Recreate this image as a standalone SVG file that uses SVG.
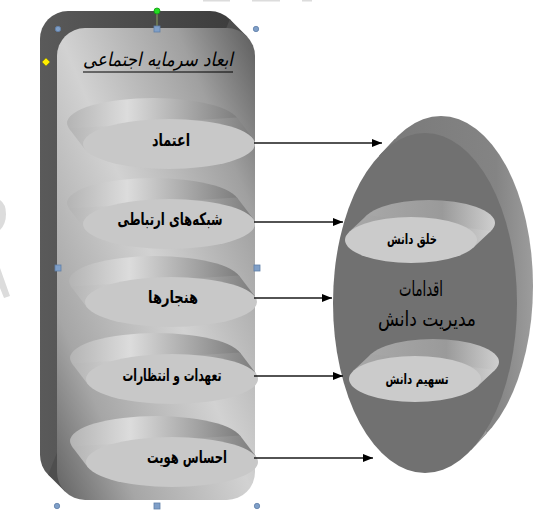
<svg xmlns="http://www.w3.org/2000/svg" xmlns:xlink="http://www.w3.org/1999/xlink" width="543" height="512" viewBox="0 0 543 512">
<style>
.lbl{font-family:"DejaVu Sans",sans-serif;font-weight:bold;fill:#000;text-anchor:middle;dominant-baseline:central}
.mid{font-family:"DejaVu Sans",sans-serif;fill:#000;text-anchor:middle;dominant-baseline:central;font-size:21px}
.conn{stroke:#1a1a1a;stroke-width:1.4;fill:none;marker-end:url(#ah)}
.hc{fill:#7f9fc8;stroke:#5f7fa8;stroke-width:0.8}
</style>
<defs>
<marker id="ah" viewBox="0 0 10 8" refX="10" refY="4" markerWidth="10" markerHeight="8" markerUnits="userSpaceOnUse" orient="auto">
<path d="M0,0 L10,4 L0,8 z" fill="#000"/>
</marker>
<linearGradient id="face" x1="0" y1="1" x2="1" y2="0">
<stop offset="0" stop-color="#626262"/>
<stop offset="0.2" stop-color="#a6a6a6"/>
<stop offset="0.5" stop-color="#d2d2d2"/>
<stop offset="0.8" stop-color="#a0a0a0"/>
<stop offset="1" stop-color="#5c5c5c"/>
</linearGradient>
<linearGradient id="back" x1="0" y1="0" x2="1" y2="0">
<stop offset="0" stop-color="#5a5a5a"/>
<stop offset="1" stop-color="#3c3c3c"/>
</linearGradient>
<linearGradient id="bevL" x1="0" y1="0" x2="1" y2="0">
<stop offset="0" stop-color="#b4b4b4"/>
<stop offset="0.35" stop-color="#dcdcdc"/>
<stop offset="1" stop-color="#7c7c7c"/>
</linearGradient>
<linearGradient id="bevR" x1="0" y1="0" x2="1" y2="0">
<stop offset="0" stop-color="#a8a8a8"/>
<stop offset="0.6" stop-color="#9a9a9a"/>
<stop offset="1" stop-color="#cfcfcf"/>
</linearGradient>
<linearGradient id="egg" x1="0" y1="0" x2="1" y2="0">
<stop offset="0" stop-color="#767676"/>
<stop offset="0.8" stop-color="#848484"/>
<stop offset="1" stop-color="#9c9c9c"/>
</linearGradient>
<g id="diskL">
<ellipse cx="-16" cy="-21" rx="86" ry="25" fill="url(#bevL)"/>
<polygon points="84,-5.4 68,-26.4 -100,-15.6 -84,5.4" fill="url(#bevL)"/>
<ellipse cx="0" cy="0" rx="86" ry="25" fill="#c8c8c8"/>
</g>
<g id="diskR">
<ellipse cx="18" cy="-17" rx="66" ry="23" fill="url(#bevR)"/>
<polygon points="61.9,8 79.9,-9 -43.9,-25 -61.9,-8" fill="url(#bevR)"/>
<ellipse cx="0" cy="0" rx="66" ry="23" fill="#cbcbcb"/>
</g>
</defs>
<rect width="543" height="512" fill="#fff"/>
<g id="watermark" fill="#dcdcdc">
<path d="M0,200 Q6,204 6,214 Q6,224 0,230 z"/>
<path d="M0,268 L10,296 L4,298 L0,288 z"/>
<rect x="203" y="0" width="27" height="1.5"/>
<rect x="252" y="0" width="28" height="1.5"/>
<rect x="302" y="0" width="10" height="1.5"/>
</g>
<g id="dimensions-box">
<rect x="40" y="11" width="198" height="472" rx="28" fill="url(#back)"/>
<polygon points="229.8,19.2 246.8,36.2 65.2,491.8 48.2,474.8" fill="#4e4e4e"/>
<rect x="57" y="28" width="198" height="472" rx="28" fill="url(#face)"/>
<text x="158" y="59" font-family="DejaVu Sans, sans-serif" font-style="italic" font-size="19" text-anchor="middle" dominant-baseline="central" fill="#000" textLength="150" lengthAdjust="spacingAndGlyphs">ابعاد سرمایه اجتماعی</text>
<line x1="83" y1="72" x2="233" y2="72" stroke="#000" stroke-width="1"/>
</g>
<g id="n-trust" transform="translate(169,144)"><use xlink:href="#diskL"/><text class="lbl" x="2" y="-4" font-size="17" textLength="38" lengthAdjust="spacingAndGlyphs">اعتماد</text></g>
<g id="n-networks" transform="translate(169,224)"><use xlink:href="#diskL"/><text class="lbl" x="1" y="-5" font-size="17" textLength="105" lengthAdjust="spacingAndGlyphs">شبکه‌های ارتباطی</text></g>
<g id="n-norms" transform="translate(171,302)"><use xlink:href="#diskL"/><text class="lbl" x="2" y="-5" font-size="17" textLength="50" lengthAdjust="spacingAndGlyphs">هنجارها</text></g>
<g id="n-commitments" transform="translate(172,379)"><use xlink:href="#diskL"/><text class="lbl" x="0" y="-4" font-size="17" textLength="99" lengthAdjust="spacingAndGlyphs">تعهدات و انتظارات</text></g>
<g id="n-identity" transform="translate(172,462)"><use xlink:href="#diskL"/><text class="lbl" x="15" y="-5" font-size="17" textLength="80" lengthAdjust="spacingAndGlyphs">احساس هویت</text></g>
<g id="km-actions">
<ellipse cx="441" cy="286" rx="92" ry="170" fill="url(#egg)"/>
<polygon points="470.8,450.4 486.8,433.4 395.2,138.6 379.2,155.6" fill="url(#egg)"/>
<ellipse cx="425" cy="303" rx="92" ry="170" fill="#717171"/>
<text class="mid" x="421" y="289" textLength="44" lengthAdjust="spacingAndGlyphs">اقدامات</text>
<text class="mid" x="427" y="319" textLength="98" lengthAdjust="spacingAndGlyphs">مدیریت دانش</text>
</g>
<g id="n-creation" transform="translate(411,240)"><use xlink:href="#diskR"/><text class="lbl" x="1" y="-1" font-size="14" textLength="50" lengthAdjust="spacingAndGlyphs">خلق دانش</text></g>
<g id="n-sharing" transform="translate(415,379)"><use xlink:href="#diskR"/><text class="lbl" x="2" y="0" font-size="14" textLength="63" lengthAdjust="spacingAndGlyphs">تسهیم دانش</text></g>
<g id="connectors">
<line class="conn" x1="254" y1="143" x2="382" y2="143"/>
<line class="conn" x1="254" y1="222" x2="343" y2="222"/>
<line class="conn" x1="254" y1="298" x2="332" y2="298"/>
<line class="conn" x1="254" y1="376" x2="343" y2="376"/>
<line class="conn" x1="254" y1="458" x2="373" y2="458"/>
</g>
<g id="selection-handles">
<line x1="157" y1="11" x2="157" y2="28" stroke="#8aa060" stroke-width="1"/>
<circle cx="157" cy="11" r="3" fill="#22dd22" stroke="#119911" stroke-width="0.8"/>
<polygon points="46,58 50,62 46,66 42,62" fill="#ffee00" stroke="#888800" stroke-width="0.6"/>
<circle class="hc" cx="58" cy="29" r="2.7"/>
<circle class="hc" cx="256" cy="29" r="2.7"/>
<circle class="hc" cx="57" cy="506" r="2.7"/>
<circle class="hc" cx="257" cy="506" r="2.7"/>
<rect class="hc" x="154" y="26" width="6" height="6"/>
<rect class="hc" x="55" y="265" width="6" height="6"/>
<rect class="hc" x="254" y="265" width="6" height="6"/>
<rect class="hc" x="154" y="503" width="6" height="6"/>
</g>
</svg>
